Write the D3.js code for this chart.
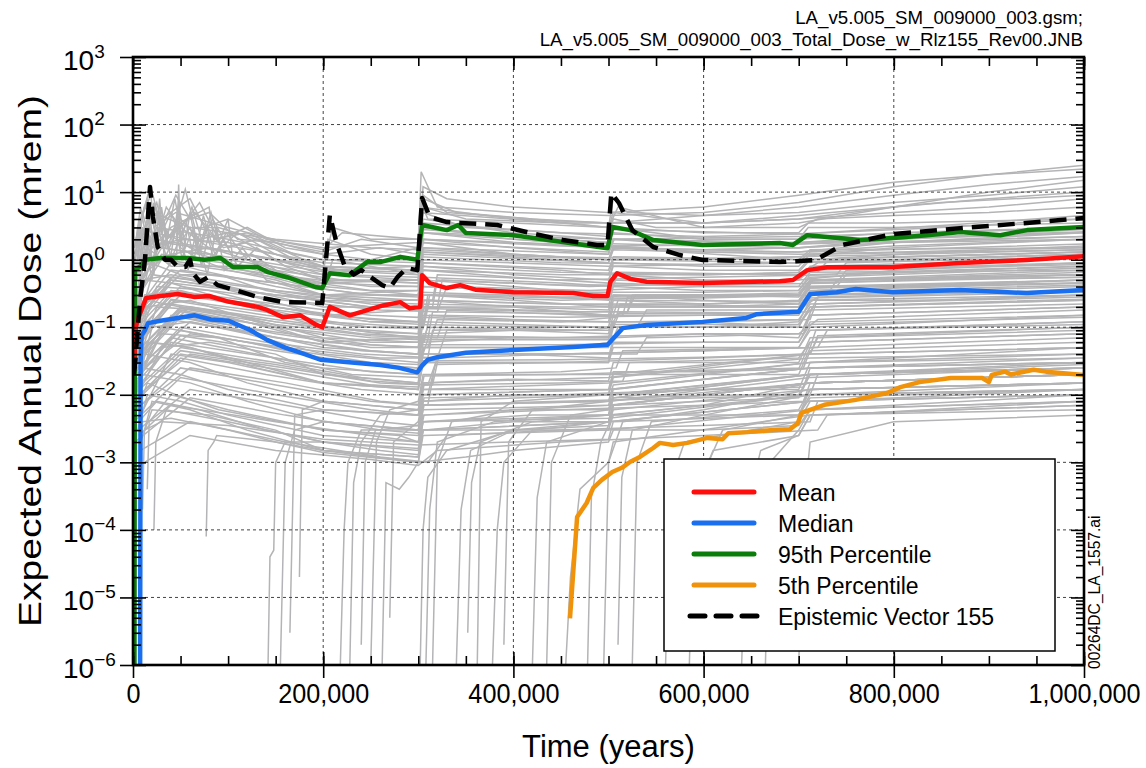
<!DOCTYPE html>
<html>
<head>
<meta charset="utf-8">
<script src="https://cdn.jsdelivr.net/npm/d3@7"></script>
<style>
  body { margin: 0; background: #fff; }
  text { font-family: "Liberation Sans", Arial, sans-serif; fill: #000; }
</style>
</head>
<body>
<svg id="chart" width="1146" height="768"></svg>
<script>
// all times are in thousands of years, doses in mrem

var meanCurve = [[0.5,0.02],[3,0.1],[5,0.13],[13.7,0.27],[29,0.29],[47,0.31],[65,0.28],[80,0.29],[100,0.24],[131,0.2],[141,0.18],[158,0.14],[176,0.15],[193,0.108],[199,0.1],[207,0.2],[228,0.15],[263,0.21],[281,0.235],[291,0.19],[302,0.2],[304,0.59],[312,0.45],[330,0.38],[344,0.42],[360,0.36],[400,0.33],[463,0.32],[484,0.29],[499,0.29],[502,0.47],[509,0.63],[523,0.52],[540,0.47],[599,0.45],[680,0.48],[694,0.5],[709,0.7],[730,0.77],[799,0.78],[870,0.89],[940,0.99],[1000,1.12]];

var medianCurve = [[7.5,1e-6],[8,0.03],[9,0.075],[12.5,0.09],[15.8,0.115],[29,0.125],[47,0.137],[65,0.15],[82,0.13],[100,0.125],[123,0.091],[141,0.065],[160,0.05],[176,0.042],[197,0.033],[230,0.03],[260,0.0275],[280,0.025],[299,0.0215],[304,0.027],[310,0.033],[320,0.036],[350,0.042],[400,0.046],[463,0.051],[499,0.055],[515,0.097],[540,0.108],[599,0.12],[645,0.137],[656,0.156],[694,0.168],[700,0.17],[712,0.31],[740,0.33],[760,0.367],[799,0.33],[870,0.355],[940,0.32],[1000,0.355]];

var p95Curve = [[1.5,1e-6],[2,0.7],[8,0.8],[12.6,1.0],[29,1.06],[58,1.06],[75,1.0],[92,1.06],[105,0.78],[131,0.78],[141,0.66],[162,0.55],[193,0.39],[199,0.38],[207,0.63],[228,0.59],[246,0.92],[260,0.92],[281,1.1],[299,1.0],[304,3.26],[330,2.74],[342,3.26],[350,2.48],[400,2.3],[452,1.82],[499,1.48],[504,3.04],[523,2.74],[547,1.95],[599,1.65],[680,1.76],[694,1.65],[709,2.3],[730,2.16],[765,1.95],[799,2.09],[835,2.3],[870,2.56],[912,2.3],[940,2.74],[1000,3.04]];

var p05Curve = [[459.5,4.9e-6],[467,1.55e-4],[477,2.5e-4],[484,4.2e-4],[493,5.5e-4],[504,7.2e-4],[514,8.3e-4],[523,1.02e-3],[533,1.2e-3],[547,1.63e-3],[554,1.94e-3],[568,1.8e-3],[583,1.94e-3],[604,2.3e-3],[620,2.2e-3],[626,2.7e-3],[646,2.8e-3],[673,3.0e-3],[691,3.1e-3],[699,3.8e-3],[703,5.4e-3],[727,7.1e-3],[760,8.4e-3],[793,1.06e-2],[807,1.3e-2],[827,1.54e-2],[860,1.77e-2],[893,1.77e-2],[900,1.54e-2],[903,1.97e-2],[917,2.2e-2],[923,2.0e-2],[947,2.35e-2],[960,2.2e-2],[1000,1.97e-2]];

var vector155Curve = [[0.5,0.02],[2,0.026],[7.4,0.25],[12.6,1.0],[17.9,11.9],[21,4.27],[26,1.54],[33.6,1.0],[40,1.0],[47,0.78],[55,0.78],[60,1.0],[63,0.63],[70.5,0.47],[79,0.55],[89,0.42],[100,0.38],[118,0.32],[131,0.28],[158,0.236],[199,0.228],[207,4.58],[214,1.76],[222,0.85],[232,0.6],[240,0.7],[250,0.55],[262,0.42],[270,0.38],[278,0.55],[288,0.75],[299,0.7],[304,8.2],[312,4.27],[330,3.6],[344,3.5],[383,3.26],[418,2.48],[452,1.95],[488,1.65],[499,1.65],[503,9.7],[511,6.9],[525,2.74],[547,1.54],[575,1.17],[599,0.99],[680,0.92],[718,0.99],[746,1.65],[799,2.39],[870,2.93],[940,3.5],[1000,4.13]];

// individual realizations (grey)
var realizationCurves = [
  [[1,0.5],[5,3],[15,8],[25,2],[35,6],[50,3],[70,7],[90,2],[120,3],[160,1.5],[200,1.2],[250,1],[300,1.5],[303,20],[320,6],[400,5],[500,4.5],[600,5],[700,7],[800,12],[900,18],[1000,25]],
  [[1,0.8],[8,4],[20,10],[30,3],[45,9],[60,4],[80,5],[110,2],[150,1.8],[200,1.2],[260,1.5],[300,1.2],[305,12],[330,8],[400,6],[500,5],[600,6],[700,9],[800,14],[900,18],[1000,22]],
  [[1,0.3],[10,2],[25,5],[40,2],[55,11],[65,3],[90,3],[130,2],[180,1],[200,0.8],[210,3],[250,2],[300,2],[305,8],[340,5],[420,4],[500,3],[505,8],[520,5],[600,4.5],[700,5],[800,7],[900,9],[1000,12]],
  [[2,1],[12,6],[30,4],[60,8],[75,3],[100,4],[140,2],[200,1.5],[300,1.8],[305,6],[350,4],[450,3.5],[500,3],[505,5],[600,3.5],[700,4],[800,5],[900,6],[1000,8]],
  [[2,0.4],[15,3],[30,1.5],[50,4],[70,2],[100,2.5],[150,1],[200,0.6],[205,2],[250,1.2],[300,1],[305,5],[350,3],[450,2.5],[500,2.2],[505,4],[550,3],[700,3],[720,4],[800,4.5],[900,5],[1000,6]],
  [[3,0.6],[10,5],[20,1.5],[40,3],[80,6],[85,2],[120,2.5],[170,1.2],[200,1],[300,0.9],[303,7],[310,4],[400,3.5],[500,3],[510,6],[600,3],[700,3.5],[800,6],[900,10],[1000,15]],
  [[1,0.2],[20,1.5],[50,2],[100,1.8],[150,1.2],[200,0.8],[300,0.7],[305,4],[400,2.5],[500,2],[505,3],[600,2.5],[700,2.5],[710,3.5],[800,3.5],[1000,4]],
  [[5,1.5],[25,7],[35,2],[65,5],[95,1.5],[130,2],[200,1.3],[240,2],[300,1.5],[305,9],[330,5],[420,4],[500,3.5],[600,3.5],[700,4],[800,6],[900,8],[1000,10]],
  [[1,0.1],[10,0.8],[40,1.2],[80,1.5],[120,1],[200,0.5],[300,0.5],[305,3],[400,2],[500,1.6],[505,3],[600,2],[700,2],[710,3],[800,3],[1000,3.5]],
  [[3,2],[18,12],[22,3],[45,5],[100,3],[160,1.8],[200,1.4],[220,2.5],[300,2],[302,6],[400,4],[500,3.5],[600,4.5],[700,6],[800,9],[900,13],[1000,17]],
  [[2,0.5],[8,2],[12,0.8],[18,4],[24,1],[30,6],[36,1.5],[44,3],[52,1],[60,5],[68,1.2],[76,3],[85,1],[95,2],[110,0.8],[130,1.5],[160,0.8],[200,0.5],[300,0.45],[305,1.5],[500,1.2],[505,2],[700,1.8],[1000,2.5]],
  [[3,0.2],[10,1],[16,3],[22,0.6],[28,8],[33,1],[42,2],[48,7],[55,1.5],[64,3],[72,0.8],[80,2.5],[90,1.8],[100,4],[105,1],[125,1.2],[150,0.7],[200,0.4],[300,0.3],[305,1.2],[500,0.9],[505,1.4],[700,1.2],[1000,1.5]],
  [[4,0.3],[14,1.5],[20,0.5],[26,3],[38,0.8],[46,4],[58,0.7],[66,2.5],[78,0.6],[88,3],[96,0.7],[115,1.5],[140,0.5],[180,0.35],[200,0.3],[300,0.25],[305,0.9],[500,0.7],[505,1.1],[700,1],[1000,1.3]],
  [[2,0.1],[10,0.6],[30,1],[46,1.2],[48,13],[50,1.5],[70,1],[100,0.7],[150,0.5],[200,0.3],[300,0.3],[305,1],[500,0.8],[700,0.9],[1000,1.2]],
  [[1,0.05],[10,0.5],[40,0.6],[100,0.4],[200,0.2],[300,0.2],[305,0.8],[400,0.6],[500,0.5],[505,0.8],[600,0.7],[700,0.7],[710,1],[850,1.3],[1000,1.6]],
  [[2,0.02],[12,0.3],[50,0.35],[120,0.2],[200,0.1],[300,0.08],[305,0.3],[400,0.25],[500,0.2],[505,0.4],[600,0.35],[700,0.35],[712,0.6],[850,0.7],[1000,0.8]],
  [[1,0.1],[8,0.8],[30,1],[70,0.7],[150,0.4],[200,0.3],[300,0.35],[305,1.5],[400,1.2],[500,1],[505,1.6],[600,1.3],[700,1.3],[800,1.8],[1000,2.5]],
  [[3,0.03],[15,0.2],[60,0.25],[130,0.12],[200,0.06],[300,0.05],[305,0.15],[400,0.13],[500,0.12],[505,0.25],[600,0.22],[700,0.25],[712,0.45],[850,0.5],[1000,0.55]],
  [[2,0.01],[20,0.1],[60,0.12],[120,0.08],[200,0.04],[300,0.03],[305,0.08],[400,0.09],[500,0.08],[505,0.15],[600,0.15],[700,0.15],[712,0.3],[850,0.35],[1000,0.4]],
  [[1,0.3],[10,2],[30,1.5],[70,1.2],[130,0.7],[200,0.45],[300,0.5],[305,2],[400,1.5],[500,1.2],[505,2],[600,1.6],[700,1.5],[800,1.8],[1000,2]],
  [[4,0.05],[25,0.4],[80,0.35],[150,0.2],[200,0.15],[300,0.12],[305,0.5],[400,0.4],[500,0.3],[505,0.5],[600,0.45],[700,0.5],[712,0.8],[850,0.9],[1000,1.1]],
  [[2,0.2],[15,1.5],[40,0.8],[100,0.8],[200,0.35],[210,1],[300,0.6],[305,2.5],[400,1.8],[500,1.5],[600,1.4],[700,1.5],[800,1.8],[1000,2.2]],
  [[5,0.01],[30,0.05],[80,0.06],[150,0.04],[200,0.02],[300,0.015],[305,0.05],[400,0.05],[500,0.05],[505,0.1],[600,0.1],[700,0.12],[712,0.25],[850,0.25],[1000,0.3]],
  [[3,0.08],[20,0.6],[60,0.5],[120,0.3],[200,0.15],[300,0.18],[305,0.4],[400,0.35],[500,0.3],[505,0.6],[600,0.5],[700,0.5],[712,0.7],[1000,0.9]],
  [[2,0.04],[15,0.25],[50,0.2],[110,0.15],[200,0.07],[300,0.06],[305,0.2],[400,0.2],[500,0.18],[505,0.3],[600,0.3],[700,0.28],[712,0.5],[1000,0.6]],
  [[6,0.02],[40,0.15],[100,0.1],[200,0.05],[300,0.04],[305,0.12],[400,0.11],[500,0.1],[505,0.2],[600,0.2],[700,0.2],[712,0.35],[1000,0.45]],
  [[1,0.5],[10,3],[20,1],[35,2.5],[60,1.5],[100,1],[200,0.6],[300,0.5],[305,1.8],[400,1.2],[500,1],[505,1.5],[700,1],[712,1.4],[1000,1.5]],
  [[4,0.015],[30,0.08],[90,0.07],[160,0.03],[200,0.025],[300,0.02],[305,0.06],[400,0.07],[500,0.07],[505,0.12],[600,0.12],[700,0.1],[712,0.2],[1000,0.25]],
  [[3,0.15],[18,0.9],[50,0.6],[90,0.6],[140,0.35],[200,0.25],[300,0.22],[305,0.7],[400,0.55],[500,0.45],[505,0.9],[600,0.8],[700,0.8],[712,1.2],[1000,1.4]],
  [[2,0.06],[12,0.5],[40,0.45],[100,0.25],[200,0.12],[300,0.1],[305,0.3],[400,0.3],[500,0.25],[505,0.45],[600,0.4],[700,0.4],[712,0.65],[1000,0.7]],
  [[8,0.005],[40,0.04],[100,0.03],[200,0.015],[300,0.012],[305,0.04],[400,0.04],[500,0.035],[505,0.07],[600,0.08],[700,0.07],[712,0.15],[1000,0.2]],
  [[1,0.9],[15,4],[25,1.5],[50,3],[80,1.5],[150,1],[200,0.7],[300,0.8],[305,3],[400,2.2],[500,1.8],[505,2.5],[600,2],[700,2],[800,2.5],[1000,3]],
  [[5,0.03],[25,0.2],[70,0.18],[140,0.1],[200,0.06],[300,0.07],[305,0.25],[400,0.2],[500,0.15],[505,0.3],[600,0.25],[700,0.22],[712,0.4],[1000,0.5]],
  [[3,0.01],[20,0.06],[60,0.05],[130,0.025],[200,0.015],[300,0.012],[305,0.03],[400,0.03],[500,0.03],[505,0.06],[600,0.06],[700,0.06],[712,0.12],[1000,0.15]],
  [[5,0.003],[15,0.01],[50,0.008],[100,0.005],[200,0.0025],[300,0.002],[305,0.005],[400,0.006],[500,0.006],[505,0.01],[600,0.012],[700,0.012],[712,0.03],[1000,0.05]],
  [[3,0.005],[10,0.02],[60,0.015],[120,0.008],[200,0.004],[300,0.003],[305,0.008],[400,0.01],[500,0.01],[505,0.02],[600,0.02],[700,0.02],[712,0.05],[1000,0.07]],
  [[8,0.002],[20,0.006],[80,0.005],[150,0.003],[200,0.0015],[300,0.0012],[305,0.003],[400,0.004],[500,0.004],[505,0.007],[600,0.008],[700,0.009],[712,0.02],[1000,0.03]],
  [[4,0.008],[12,0.04],[60,0.03],[120,0.015],[200,0.008],[300,0.006],[305,0.015],[400,0.017],[500,0.016],[505,0.03],[600,0.03],[700,0.03],[712,0.07],[1000,0.1]],
  [[6,0.004],[25,0.008],[70,0.006],[140,0.003],[170,0.0025],[200,0.002],[260,0.0015],[300,0.0013],[305,0.003],[400,0.003],[500,0.003],[505,0.005],[600,0.005],[700,0.005],[712,0.012],[1000,0.015]],
  [[2,0.01],[10,0.025],[50,0.02],[100,0.012],[200,0.006],[300,0.005],[305,0.012],[400,0.012],[500,0.012],[505,0.022],[600,0.022],[700,0.024],[712,0.06],[1000,0.08]],
  [[10,0.004],[40,0.0045],[100,0.003],[150,0.002],[200,0.0014],[300,0.001],[350,0.0012],[400,0.0015],[500,0.002],[505,0.003],[600,0.003],[700,0.0035],[712,0.006],[1000,0.01]],
  [[3,0.02],[15,0.06],[60,0.05],[120,0.03],[200,0.015],[300,0.013],[305,0.03],[400,0.03],[500,0.03],[505,0.05],[600,0.05],[700,0.05],[712,0.1],[1000,0.15]],
  [[5,0.006],[15,0.015],[45,0.01],[90,0.006],[200,0.003],[280,0.0025],[300,0.002],[305,0.004],[420,0.005],[500,0.005],[505,0.009],[650,0.01],[700,0.01],[712,0.02],[1000,0.025]],
  [[12,0.003],[30,0.004],[100,0.0035],[200,0.0022],[300,0.0018],[400,0.002],[500,0.0022],[505,0.004],[700,0.005],[712,0.009],[1000,0.012]],
  [[10,2e-4],[12,3e-3],[20,8e-3],[60,6e-3],[120,3e-3],[200,1.5e-3],[300,1e-3],[305,2.5e-3],[500,3e-3],[712,6e-3],[1000,8e-3]],
  [[15,4e-4],[17,4e-3],[40,1e-2],[100,6e-3],[200,3e-3],[300,2.5e-3],[305,6e-3],[500,7e-3],[712,0.015],[1000,0.02]],
  [[22,1e-4],[24,2e-3],[35,6e-3],[100,4e-3],[200,2e-3],[300,1.6e-3],[305,4e-3],[500,4.5e-3],[712,0.01],[1000,0.012]],
  [[77,8e-5],[79,1.5e-3],[85,2e-3],[88,2.5e-3],[150,2e-3],[200,1.5e-3],[300,1.2e-3],[305,3e-3],[500,4e-3],[712,8e-3],[1000,0.01]],
  [[142,1e-6],[144,4e-5],[148,5e-5],[150,1e-3],[160,2e-3],[200,2e-3],[300,1.5e-3],[305,4e-3],[500,5e-3],[712,0.01],[1000,0.015]],
  [[155,1e-6],[160,1e-3],[170,3e-3],[200,4e-3],[300,3e-3],[305,7e-3],[500,8e-3],[712,0.018],[1000,0.025]],
  [[165,3e-6],[170,5e-3],[200,6e-3],[300,5e-3],[305,0.01],[500,0.012],[712,0.025],[1000,0.03]],
  [[175,2e-5],[178,6e-3],[200,8e-3],[300,6e-3],[305,0.015],[500,0.018],[712,0.04],[1000,0.05]],
  [[218,1e-6],[222,1e-4],[226,1e-3],[240,3e-3],[300,3e-3],[305,7e-3],[500,8e-3],[712,0.015],[1000,0.02]],
  [[228,1e-6],[232,5e-4],[240,2e-3],[260,5e-3],[300,6e-3],[305,0.012],[500,0.015],[712,0.03],[1000,0.04]],
  [[240,2e-6],[244,1e-3],[255,3e-3],[300,3.5e-3],[305,8e-3],[500,0.01],[712,0.02],[1000,0.025]],
  [[250,1e-6],[256,2e-3],[270,6e-3],[300,8e-3],[305,0.02],[500,0.02],[712,0.04],[1000,0.05]],
  [[262,1e-6],[266,5e-4],[280,4e-4],[290,6e-4],[300,1e-3],[305,3e-3],[500,4e-3],[712,8e-3],[1000,0.01]],
  [[270,5e-6],[274,2e-3],[300,4e-3],[305,0.01],[500,0.012],[712,0.025],[1000,0.03]],
  [[302,1e-6],[305,1e-4],[310,6e-4],[330,1.5e-3],[400,3e-3],[500,4e-3],[505,7e-3],[712,0.015],[1000,0.02]],
  [[308,1e-6],[312,2e-4],[320,2e-3],[380,4e-3],[500,5e-3],[505,9e-3],[712,0.02],[1000,0.025]],
  [[315,1e-6],[320,1e-3],[335,4e-3],[400,6e-3],[500,7e-3],[505,0.012],[712,0.025],[1000,0.03]],
  [[340,1e-6],[345,2e-4],[355,1.5e-3],[400,3e-3],[500,3.5e-3],[505,6e-3],[712,0.012],[1000,0.015]],
  [[352,3e-6],[356,5e-4],[365,2e-3],[420,4e-3],[500,5e-3],[505,9e-3],[712,0.02],[1000,0.025]],
  [[362,1e-6],[366,4e-3],[400,8e-3],[500,0.01],[505,0.018],[712,0.035],[1000,0.04]],
  [[378,1e-6],[383,1e-4],[390,1e-3],[420,3e-3],[500,4e-3],[505,7e-3],[712,0.015],[1000,0.02]],
  [[390,2e-6],[395,2e-3],[420,6e-3],[500,8e-3],[505,0.014],[712,0.03],[1000,0.035]],
  [[420,1e-6],[425,3e-4],[435,2e-3],[500,4e-3],[505,7e-3],[712,0.015],[1000,0.02]],
  [[435,1e-6],[440,1e-3],[460,5e-3],[500,6e-3],[505,0.01],[712,0.02],[1000,0.025]],
  [[455,1e-6],[460,2e-5],[470,4e-4],[500,1e-3],[505,2e-3],[712,5e-3],[1000,7e-3]],
  [[478,1e-6],[482,3e-4],[492,2e-3],[505,5e-3],[600,7e-3],[712,0.015],[1000,0.02]],
  [[495,1e-6],[500,1e-3],[515,4e-3],[600,6e-3],[712,0.012],[1000,0.015]],
  [[510,2e-6],[514,6e-4],[525,3e-3],[600,5e-3],[712,0.01],[1000,0.012]],
  [[525,1e-6],[530,1e-3],[545,4e-3],[700,6e-3],[712,0.012],[1000,0.015]],
  [[560,1e-6],[565,5e-4],[580,2e-3],[700,4e-3],[712,8e-3],[1000,0.01]],
  [[585,1e-6],[590,3e-4],[610,1.5e-3],[700,2.5e-3],[712,5e-3],[1000,6e-3]],
  [[600,1e-6],[605,1e-3],[620,3e-3],[700,5e-3],[712,0.01],[1000,0.012]],
  [[640,1e-6],[645,2e-4],[660,1.5e-3],[700,2.5e-3],[712,5e-3],[1000,7e-3]],
  [[665,1e-6],[670,1e-3],[700,3e-3],[712,6e-3],[1000,8e-3]],
  [[700,1e-6],[705,2e-4],[712,2e-3],[800,4e-3],[1000,5e-3]],
  [[1,0.07],[50,0.3],[150,0.2],[250,0.12],[306,0.12],[312,0.3],[450,0.25],[600,0.28],[705,0.3],[715,0.5],[1000,0.7]],
  [[2,0.03],[50,0.15],[150,0.08],[250,0.05],[300,0.05],[303,0.14],[450,0.12],[508,0.14],[512,0.22],[700,0.2],[720,0.35],[1000,0.5]],
  [[1,0.12],[40,0.5],[150,0.3],[250,0.25],[315,0.25],[320,0.6],[450,0.5],[600,0.55],[740,0.6],[750,0.9],[1000,1.1]],
  [[3,0.02],[60,0.08],[160,0.05],[260,0.035],[310,0.035],[315,0.09],[450,0.1],[530,0.1],[540,0.18],[700,0.18],[720,0.28],[1000,0.35]],
  [[2,0.25],[30,1.2],[120,0.8],[220,0.5],[300,0.45],[302,1.4],[450,1.1],[600,1],[700,1.1],[800,1.5],[1000,2]],
  [[4,0.04],[60,0.2],[150,0.12],[240,0.08],[320,0.07],[330,0.18],[480,0.15],[515,0.15],[520,0.28],[700,0.3],[712,0.45],[1000,0.6]],
  [[1,0.015],[40,0.07],[130,0.04],[230,0.02],[300,0.018],[306,0.05],[460,0.05],[503,0.06],[510,0.1],[705,0.1],[715,0.2],[1000,0.25]],
  [[2,0.18],[50,0.7],[150,0.45],[250,0.3],[300,0.3],[305,0.9],[450,0.7],[500,0.6],[505,1],[700,0.9],[800,1.1],[1000,1.3]],
  [[6,0.01],[60,0.04],[160,0.025],[260,0.015],[310,0.014],[320,0.035],[450,0.04],[600,0.045],[720,0.05],[730,0.09],[1000,0.12]],
  [[3,0.05],[40,0.25],[140,0.15],[240,0.1],[302,0.1],[306,0.25],[450,0.22],[600,0.2],[700,0.22],[712,0.4],[1000,0.45]],
  [[1,0.4],[20,2],[80,1.5],[180,0.8],[300,0.7],[304,2.5],[450,1.8],[600,1.6],[700,1.8],[850,2.5],[1000,3]],
  [[5,0.025],[60,0.12],[150,0.07],[250,0.045],[300,0.04],[310,0.1],[480,0.09],[505,0.1],[512,0.17],[700,0.16],[705,0.25],[1000,0.3]],
  [[2,0.08],[50,0.4],[160,0.25],[260,0.18],[320,0.17],[330,0.4],[480,0.35],[600,0.4],[740,0.4],[750,0.6],[1000,0.8]],
  [[3,0.012],[50,0.05],[150,0.03],[240,0.018],[300,0.015],[303,0.04],[450,0.04],[530,0.04],[540,0.07],[700,0.08],[720,0.13],[1000,0.18]],
  [[1,0.6],[25,3],[100,2],[200,1],[300,1],[302,3.5],[450,2.5],[600,2.2],[700,2.4],[850,3],[1000,4]],
  [[4,0.035],[50,0.18],[150,0.1],[250,0.06],[306,0.06],[312,0.15],[450,0.14],[600,0.15],[712,0.17],[722,0.3],[1000,0.35]],
  [[2,0.006],[60,0.025],[160,0.015],[260,0.008],[310,0.007],[316,0.02],[450,0.022],[508,0.025],[515,0.045],[700,0.05],[712,0.09],[1000,0.12]],
  [[3,0.1],[40,0.45],[150,0.3],[250,0.2],[300,0.2],[305,0.55],[450,0.45],[505,0.4],[510,0.65],[700,0.6],[720,0.9],[1000,1.2]],
  [[1,0.02],[30,0.1],[120,0.06],[220,0.03],[300,0.025],[302,0.07],[440,0.07],[600,0.08],[705,0.08],[712,0.15],[1000,0.2]],
  [[5,0.15],[50,0.6],[150,0.35],[250,0.22],[315,0.2],[320,0.5],[480,0.4],[600,0.45],[700,0.5],[800,0.7],[1000,0.9]],
  [[2,0.045],[40,0.22],[150,0.13],[260,0.08],[300,0.07],[306,0.2],[470,0.17],[520,0.17],[525,0.3],[700,0.3],[712,0.5],[1000,0.55]],
  [[3,0.008],[50,0.035],[140,0.02],[240,0.012],[310,0.01],[318,0.028],[450,0.03],[600,0.035],[712,0.04],[720,0.07],[1000,0.09]],
  [[1,0.3],[30,1.5],[120,1],[220,0.6],[300,0.55],[303,1.8],[450,1.4],[500,1.3],[506,2],[700,1.7],[850,2.2],[1000,2.6]],
  [[4,0.06],[50,0.3],[150,0.18],[250,0.12],[305,0.11],[310,0.3],[450,0.27],[600,0.27],[730,0.3],[740,0.5],[1000,0.65]],
  [[2,0.018],[50,0.09],[150,0.05],[250,0.03],[300,0.028],[304,0.075],[460,0.07],[500,0.07],[506,0.12],[700,0.13],[712,0.22],[1000,0.28]],
  [[6,0.2],[40,0.9],[150,0.55],[250,0.35],[300,0.35],[302,1.1],[450,0.9],[600,0.85],[700,0.9],[712,1.3],[1000,1.7]],
  [[3,0.028],[50,0.14],[150,0.085],[250,0.055],[310,0.05],[320,0.13],[450,0.12],[600,0.12],[712,0.13],[718,0.22],[1000,0.3]],
  [[1,0.004],[50,0.018],[150,0.01],[250,0.006],[300,0.005],[306,0.014],[450,0.015],[515,0.016],[522,0.03],[700,0.035],[712,0.06],[1000,0.08]],
  [[2,0.09],[40,0.35],[150,0.22],[250,0.15],[300,0.14],[304,0.4],[450,0.33],[600,0.33],[700,0.35],[712,0.55],[1000,0.75]],
  [[3,0.5],[20,2.5],[100,1.6],[200,0.9],[300,0.8],[305,2.8],[450,2],[500,1.8],[505,2.8],[700,2.4],[850,3.2],[1000,4.5]],
  [[4,0.012],[40,0.06],[150,0.035],[250,0.022],[300,0.02],[303,0.055],[450,0.055],[600,0.06],[700,0.06],[712,0.11],[1000,0.14]],
  [[2,0.035],[50,0.17],[150,0.1],[250,0.07],[310,0.065],[315,0.17],[450,0.16],[505,0.15],[510,0.25],[700,0.24],[712,0.38],[1000,0.45]],
  [[5,0.003],[60,0.012],[160,0.007],[260,0.004],[300,0.0035],[306,0.009],[450,0.01],[600,0.012],[705,0.013],[712,0.025],[1000,0.035]],
  [[1,0.14],[40,0.55],[150,0.35],[250,0.25],[300,0.25],[302,0.7],[450,0.6],[600,0.6],[720,0.65],[730,0.95],[1000,1.2]],
  [[3,0.022],[50,0.1],[140,0.06],[240,0.04],[320,0.035],[330,0.09],[450,0.09],[500,0.09],[510,0.16],[700,0.16],[712,0.27],[1000,0.33]],
  [[2,0.07],[40,0.32],[150,0.2],[250,0.13],[300,0.12],[303,0.33],[450,0.28],[600,0.3],[700,0.32],[712,0.5],[1000,0.6]],
  [[1,1.2],[20,5],[60,3],[150,2],[250,1.5],[300,1.4],[303,5],[450,3.5],[600,3.5],[700,4.5],[850,7],[1000,9]],
  [[4,0.009],[50,0.04],[150,0.024],[250,0.014],[300,0.012],[305,0.032],[450,0.033],[600,0.036],[712,0.04],[720,0.075],[1000,0.1]],
  [[2,0.055],[40,0.26],[150,0.16],[250,0.1],[305,0.095],[312,0.25],[450,0.22],[600,0.22],[700,0.24],[712,0.38],[1000,0.5]],
  [[3,0.25],[30,1],[150,0.6],[250,0.4],[300,0.4],[303,1.3],[450,1],[500,0.9],[505,1.5],[700,1.3],[800,1.6],[1000,2]],
  [[5,0.016],[50,0.075],[150,0.045],[250,0.028],[300,0.025],[310,0.065],[450,0.065],[500,0.065],[506,0.11],[700,0.11],[712,0.18],[1000,0.22]],
  [[2,0.11],[40,0.5],[150,0.3],[250,0.2],[320,0.19],[325,0.5],[450,0.42],[600,0.42],[740,0.45],[750,0.7],[1000,0.85]],
  [[1,0.03],[40,0.13],[140,0.075],[240,0.045],[300,0.04],[302,0.11],[450,0.1],[600,0.1],[700,0.11],[712,0.2],[1000,0.26]],
  [[3,0.006],[50,0.025],[150,0.014],[250,0.008],[300,0.007],[306,0.019],[450,0.02],[600,0.023],[705,0.025],[712,0.045],[1000,0.06]],
  [[4,0.35],[30,1.8],[120,1.2],[220,0.7],[300,0.65],[304,2],[450,1.6],[600,1.4],[700,1.5],[800,2],[1000,2.8]],
  [[2,0.04],[50,0.19],[150,0.11],[250,0.075],[300,0.07],[305,0.19],[450,0.17],[520,0.17],[528,0.3],[700,0.3],[712,0.48],[1000,0.6]],
  [[1,0.01],[50,0.045],[150,0.028],[250,0.016],[315,0.014],[322,0.04],[450,0.04],[600,0.045],[712,0.05],[718,0.09],[1000,0.11]],
  [[3,0.16],[40,0.7],[150,0.45],[250,0.3],[300,0.28],[303,0.8],[450,0.65],[600,0.6],[700,0.65],[712,1],[1000,1.3]],
  [[5,0.045],[50,0.2],[150,0.12],[250,0.085],[300,0.08],[302,0.22],[450,0.2],[600,0.2],[700,0.2],[712,0.33],[1000,0.42]],
  [[2,0.002],[60,0.009],[160,0.005],[260,0.003],[300,0.0027],[306,0.007],[450,0.008],[600,0.009],[712,0.01],[720,0.02],[1000,0.028]],
  [[8,0.0015],[60,0.004],[160,0.002],[260,0.0012],[310,0.001],[330,0.0025],[450,0.003],[600,0.0035],[712,0.004],[720,0.008],[1000,0.012]],
  [[12,0.001],[60,0.0025],[150,0.0015],[250,0.0011],[300,0.0009],[320,0.0015],[450,0.002],[600,0.0025],[720,0.003],[730,0.005],[1000,0.008]],
  [[6,0.0025],[40,0.007],[150,0.004],[250,0.0025],[300,0.002],[306,0.005],[450,0.006],[600,0.007],[705,0.008],[712,0.015],[1000,0.02]],
  [[2,1.5],[8,6],[14,2],[22,7],[30,2.5],[40,5],[50,2],[62,6],[72,2],[84,4],[100,1.5],[130,2],[170,1],[200,0.8],[300,0.7],[305,2.5],[500,2],[700,2.2],[1000,3]],
  [[3,0.7],[10,3],[18,1.2],[26,5],[34,1.5],[44,8],[52,2],[60,3],[70,1.2],[82,5],[92,1.5],[110,2.5],[150,1.2],[200,0.7],[300,0.6],[305,2],[500,1.6],[700,1.7],[1000,2.2]],
  [[1,0.35],[12,1.8],[20,0.9],[32,4],[40,1],[56,3.5],[64,1],[74,4.5],[86,1.2],[98,2.5],[120,1],[160,0.6],[200,0.45],[300,0.4],[305,1.3],[500,1],[700,1.1],[1000,1.4]]
];

var legendLabels = ["Mean", "Median", "95th Percentile", "5th Percentile", "Epistemic Vector 155"];
var xTickValues = [0, 200000, 400000, 600000, 800000, 1000000];
var yExponents = [3, 2, 1, 0, -1, -2, -3, -4, -5, -6];
var headerLines = ["LA_v5.005_SM_009000_003.gsm;", "LA_v5.005_SM_009000_003_Total_Dose_w_Rlz155_Rev00.JNB"];

(function () {
var svg = d3.select("#chart");
var pLeft = 133, pRight = 1084, pTop = 57, pBottom = 665;

var x = d3.scaleLinear().domain([0, 1e6]).range([pLeft, pRight]);
var y = d3.scaleLog().domain([1e-6, 1e3]).range([pBottom, pTop]);

var line = d3.line()
    .x(function (d) { return x(d[0] * 1000); })
    .y(function (d) { return y(d[1]); });

svg.append("defs").append("clipPath").attr("id", "plotClip")
    .append("rect").attr("x", pLeft).attr("y", pTop).attr("width", pRight - pLeft).attr("height", pBottom - pTop);

var plot = svg.append("g").attr("clip-path", "url(#plotClip)");

// grey realizations
plot.selectAll(".rlz").data(realizationCurves).enter().append("path")
    .attr("class", "rlz").attr("d", line)
    .style("fill", "none").style("stroke", "#b4b4b6").style("stroke-width", 1.5);

// dashed grid
var minorX = d3.range(0, 1000001, 50000);
var decades = yExponents.map(function (e) { return Math.pow(10, e); });
plot.selectAll(".gx").data(xTickValues.slice(1, 5)).enter().append("line")
    .attr("x1", function (d) { return x(d); }).attr("x2", function (d) { return x(d); })
    .attr("y1", pTop).attr("y2", pBottom)
    .style("stroke", "#444").style("stroke-width", 1).style("stroke-dasharray", "3,3");
plot.selectAll(".gy").data(decades.slice(1, 9)).enter().append("line")
    .attr("x1", pLeft).attr("x2", pRight)
    .attr("y1", function (d) { return y(d); }).attr("y2", function (d) { return y(d); })
    .style("stroke", "#444").style("stroke-width", 1).style("stroke-dasharray", "3,3");

// summary curves
var series = [
    {data: p95Curve, color: "#0a7d0a", dash: null},
    {data: p05Curve, color: "#f0930a", dash: null},
    {data: medianCurve, color: "#1a6ff0", dash: null},
    {data: meanCurve, color: "#ff0c0c", dash: null},
    {data: vector155Curve, color: "#000", dash: "17,9"}
];
plot.selectAll(".stat").data(series).enter().append("path")
    .attr("class", "stat").attr("d", function (d) { return line(d.data); })
    .style("fill", "none").style("stroke", function (d) { return d.color; })
    .style("stroke-width", 4.5).style("stroke-linejoin", "round")
    .style("stroke-dasharray", function (d) { return d.dash; });

// axes
var minorY = [];
for (var e = -6; e < 3; e++) for (var k = 2; k < 10; k++) minorY.push(k * Math.pow(10, e));

function noLabel() { return ""; }
svg.append("g").attr("transform", "translate(0," + pBottom + ")")
    .call(d3.axisBottom(x).tickValues(minorX).tickSize(-9).tickFormat(noLabel));
svg.append("g").attr("transform", "translate(0," + pBottom + ")")
    .call(d3.axisBottom(x).tickValues(xTickValues).tickSize(-13).tickFormat(noLabel));
var xAxis = svg.append("g").attr("transform", "translate(0," + pBottom + ")")
    .call(d3.axisBottom(x).tickValues(xTickValues).tickSize(13).tickPadding(6)
        .tickFormat(d3.format(",")));
svg.append("g").attr("transform", "translate(0," + pTop + ")")
    .call(d3.axisTop(x).tickValues(minorX).tickSize(-9).tickFormat(noLabel));
svg.append("g").attr("transform", "translate(0," + pTop + ")")
    .call(d3.axisTop(x).tickValues(xTickValues).tickSize(-13).tickFormat(noLabel));

svg.append("g").attr("transform", "translate(" + pLeft + ",0)")
    .call(d3.axisLeft(y).tickValues(minorY).tickSize(-8).tickFormat(noLabel));
svg.append("g").attr("transform", "translate(" + pLeft + ",0)")
    .call(d3.axisLeft(y).tickValues(decades).tickSize(-13).tickFormat(noLabel));
var yAxis = svg.append("g").attr("transform", "translate(" + pLeft + ",0)")
    .call(d3.axisLeft(y).tickValues(decades).tickSize(13).tickFormat(noLabel));
svg.append("g").attr("transform", "translate(" + pRight + ",0)")
    .call(d3.axisRight(y).tickValues(minorY).tickSize(-8).tickFormat(noLabel));
svg.append("g").attr("transform", "translate(" + pRight + ",0)")
    .call(d3.axisRight(y).tickValues(decades).tickSize(-13).tickFormat(noLabel));

svg.selectAll(".domain").remove();
svg.selectAll(".tick line").style("stroke", "#000").style("stroke-width", 1.6);

xAxis.selectAll(".tick text")
    .style("font-size", "28px").style("font-family", "'Liberation Sans', Arial, sans-serif")
    .attr("fill", "#000")
    .attr("transform", "scale(0.9,1)")
    .attr("y", 18).attr("dy", "0.72em");

yAxis.selectAll(".tick").append("text")
    .attr("x", -70).attr("y", 12)
    .style("font-size", "28px").attr("text-anchor", "start")
    .each(function (d) {
        var t = d3.select(this);
        var ex = Math.round(Math.log10(d));
        t.append("tspan").text("10");
        t.append("tspan").attr("dy", -12).style("font-size", "19px")
            .text(ex < 0 ? "\u2212" + (-ex) : String(ex));
    });

// plot frame
svg.append("rect").attr("x", pLeft).attr("y", pTop).attr("width", pRight - pLeft).attr("height", pBottom - pTop)
    .style("fill", "none").style("stroke", "#000").style("stroke-width", 2.6);

// axis titles
svg.append("text").attr("x", (pLeft + pRight) / 2).attr("y", 757)
    .attr("text-anchor", "middle").style("font-size", "31px").text("Time (years)");
svg.append("text").attr("transform", "translate(41,361) rotate(-90)")
    .attr("text-anchor", "middle").style("font-size", "31px")
    .attr("textLength", 532).attr("lengthAdjust", "spacingAndGlyphs")
    .text("Expected Annual Dose (mrem)");

// header
svg.selectAll(".hdr").data(headerLines).enter().append("text")
    .attr("x", 1083).attr("y", function (d, i) { return 24 + i * 22; })
    .attr("text-anchor", "end").style("font-size", "18.7px").text(function (d) { return d; });

// side label
svg.append("text").attr("transform", "translate(1100,669) rotate(-90)")
    .style("font-size", "15.6px").text("00264DC_LA_1557.ai");

// legend
var legend = svg.append("g");
legend.append("rect").attr("x", 664).attr("y", 459).attr("width", 391).attr("height", 192)
    .style("fill", "#fff").style("stroke", "#000").style("stroke-width", 1.5);
var legendOrder = [series[3], series[2], series[0], series[1], series[4]];
legendOrder.forEach(function (s, i) {
    var yy = 492 + i * 31;
    legend.append("line").attr("x1", s.dash ? 690 : 694).attr("x2", s.dash ? 758 : 754)
        .attr("y1", yy).attr("y2", yy)
        .style("stroke", s.color).style("stroke-width", 5).style("stroke-linecap", "round")
        .style("stroke-dasharray", s.dash ? "15,11" : null);
    legend.append("text").attr("x", 778).attr("y", yy + 8.5)
        .style("font-size", "23px").text(legendLabels[i]);
});
})();
</script>
</body>
</html>
